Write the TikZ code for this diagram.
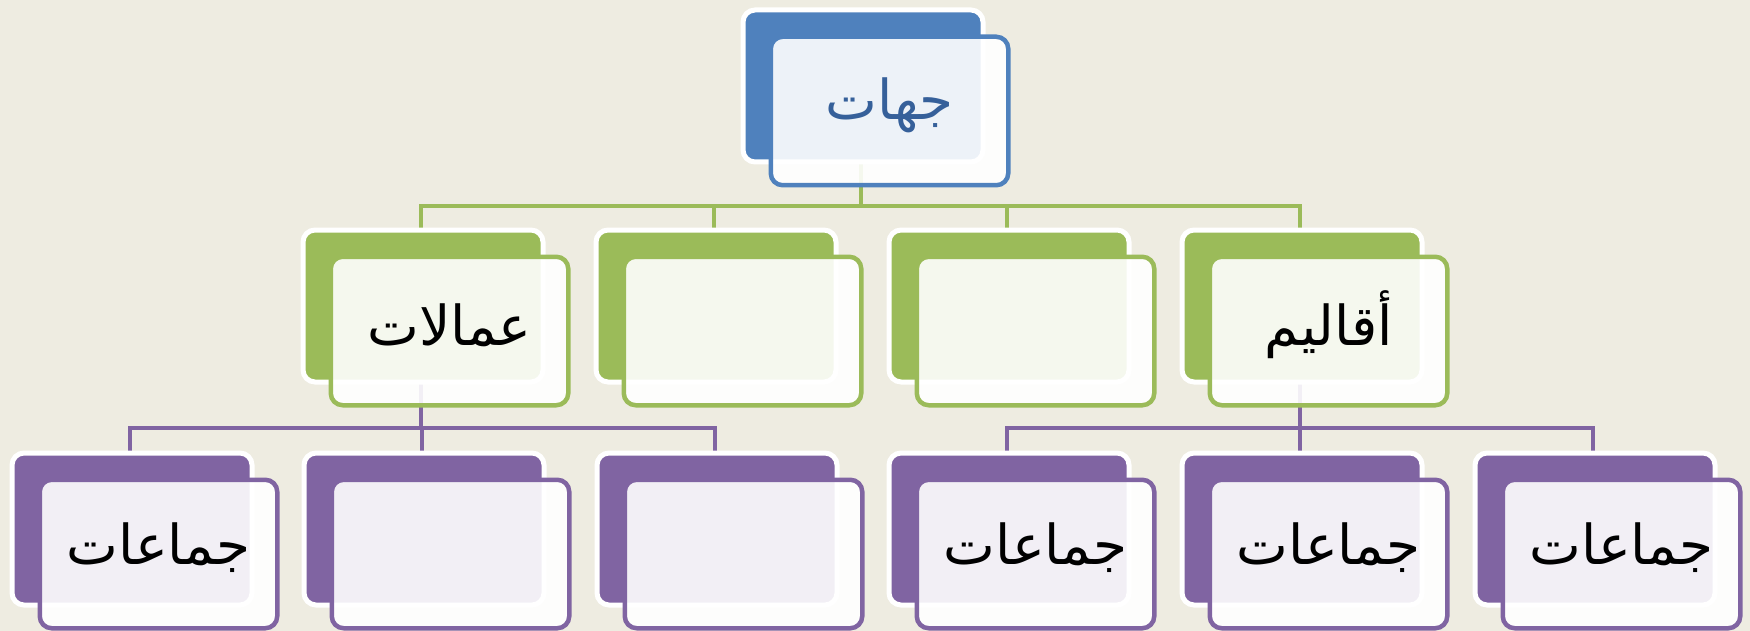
\documentclass[tikz,border=0pt]{standalone}
\usepackage{fontspec}
\newfontfamily\arabicfont[Script=Arabic]{DejaVu Sans}
\TeXXeTstate=1
\definecolor{bg}{HTML}{EEECE1}
\definecolor{cblue}{HTML}{4F81BD}
\definecolor{cgreen}{HTML}{9BBB59}
\definecolor{cpurple}{HTML}{8064A2}
\definecolor{tblue}{HTML}{36609A}
\tikzset{
  backbox/.style={draw=white, line width=5pt, fill=#1, rounded corners=12pt,
    minimum width=240pt, minimum height=152pt, inner sep=0pt, anchor=north west},
  frontbox/.style={draw=#1, line width=4.5pt, fill=white, fill opacity=0.9, draw opacity=1,
    rounded corners=12pt, minimum width=237.5pt, minimum height=148.5pt, inner sep=0pt, anchor=north west},
  lbl/.style={font=\arabicfont\fontsize{55}{62}\selectfont, text=black, inner sep=0pt, yshift=6pt},
  conn/.style={draw=#1, line width=4pt},
  place/.style={minimum width=240pt, minimum height=152pt, inner sep=0pt, anchor=north west},
}
\newcommand{\unitbox}[5]{% name, x, y, colour, text
  \node[backbox=#4] (#1) at (#2,#3) {};
  \node[frontbox=#4] (#1f) at (#2+28,#3+27) {};
  \node[lbl] (#1t) at (#1f.center) {#5};
}
\begin{document}
\begin{tikzpicture}[x=1pt,y=-1pt]
\fill[bg] (0,0) rectangle (1750,631);
\useasboundingbox (0,0) rectangle (1750,631);
% bus coordinates
\coordinate (busA) at (0,206);
\coordinate (busB) at (0,428);
% placement nodes for the connectors
\path
  (740.5,7.5) node[place] (t) {}
  (300.5,227.5) node[place] (a1) {}
  (593.5,227.5) node[place] (a2) {}
  (886.5,227.5) node[place] (a3) {}
  (1179.5,227.5) node[place] (a4) {}
  (9.5,450.5) node[place] (b1) {}
  (301.5,450.5) node[place] (b2) {}
  (594.5,450.5) node[place] (b3) {}
  (886.5,450.5) node[place] (b4) {}
  (1179.5,450.5) node[place] (b5) {}
  (1472.5,450.5) node[place] (b6) {};
% connectors
\foreach \c in {a1,a2,a3,a4}
  \draw[conn=cgreen] (t.south) -- (t.south |- busA) -| (\c.north);
\foreach \c in {b1,b2,b3}
  \draw[conn=cpurple] (a1.south) -- (a1.south |- busB) -| (\c.north);
\foreach \c in {b4,b5,b6}
  \draw[conn=cpurple] (a4.south) -- (a4.south |- busB) -| (\c.north);
% boxes
\unitbox{T}{740.5}{7.5}{cblue}{\textcolor{tblue}{\beginR جهات\endR}}
\unitbox{A1}{300.5}{227.5}{cgreen}{\beginR عمالات\endR}
\unitbox{A2}{593.5}{227.5}{cgreen}{}
\unitbox{A3}{886.5}{227.5}{cgreen}{}
\unitbox{A4}{1179.5}{227.5}{cgreen}{\beginR أقاليم\endR}
\unitbox{B1}{9.5}{450.5}{cpurple}{\beginR جماعات\endR}
\unitbox{B2}{301.5}{450.5}{cpurple}{}
\unitbox{B3}{594.5}{450.5}{cpurple}{}
\unitbox{B4}{886.5}{450.5}{cpurple}{\beginR جماعات\endR}
\unitbox{B5}{1179.5}{450.5}{cpurple}{\beginR جماعات\endR}
\unitbox{B6}{1472.5}{450.5}{cpurple}{\beginR جماعات\endR}
\end{tikzpicture}
\end{document}
